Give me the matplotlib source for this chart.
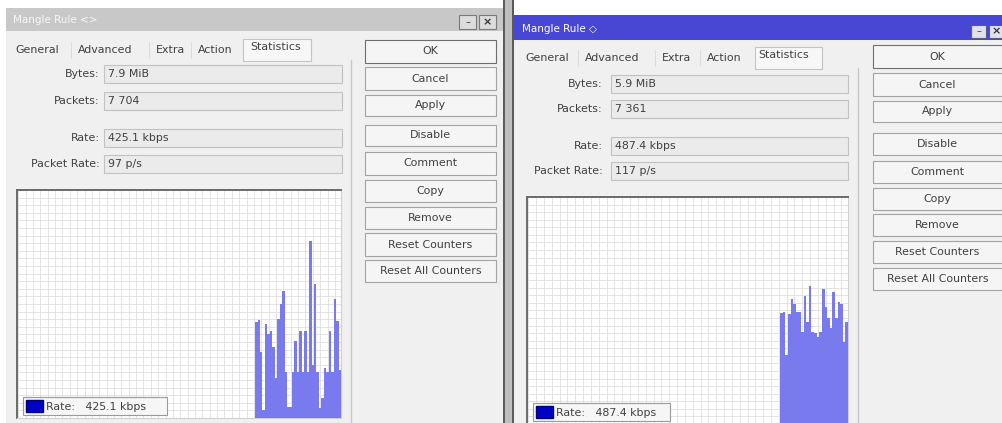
import matplotlib
matplotlib.use("Agg")
import matplotlib.pyplot as plt
from matplotlib.patches import Rectangle, Patch
from matplotlib.ticker import MultipleLocator
import numpy as np

# ---------------- data ----------------
tab_names = ["General", "Advanced", "Extra", "Action", "Statistics"]
field_labels = ["Bytes:", "Packets:", "Rate:", "Packet Rate:"]
left_values = ["7.9 MiB", "7 704", "425.1 kbps", "97 p/s"]
right_values = ["5.9 MiB", "7 361", "487.4 kbps", "117 p/s"]
button_labels = ["OK", "Cancel", "Apply", "Disable", "Comment", "Copy",
                 "Remove", "Reset Counters", "Reset All Counters"]
left_legend = "Rate:   425.1 kbps"
right_legend = "Rate:   487.4 kbps"

# rate history (kbps), most recent sample last
left_rate = [841, 858, 575, 71, 823, 735, 761, 619, 354, 867, 1000, 1115,
             407, 97, 97, 407, 673, 407, 761, 407, 761, 407, 1549, 469,
             1177, 407, 88, 177, 442, 407, 761, 407, 1044, 850, 425]
right_rate = [982, 991, 611, 965, 1097, 1053, 991, 991, 814, 1124, 903, 1212,
              814, 805, 770, 814, 1186, 1027, 938, 850, 1159, 938, 1071, 1053,
              726, 903]
left_slots = 132
right_slots = 123
y_max = 2000

# ---------------- figure ----------------
W, H = 1003, 423
fig = plt.figure(figsize=(W / 100, H / 100), dpi=100)
fig.patch.set_facecolor("white")
ax0 = fig.add_axes([0, 0, 1, 1])
ax0.set_xlim(0, W)
ax0.set_ylim(H, 0)
ax0.axis("off")

FONT = "DejaVu Sans"
TXT = "#404040"
FS = 7.9


def rect(x0, y0, x1, y1, fc, ec="none", lw=0.8, z=1):
    ax0.add_patch(Rectangle((x0, y0), x1 - x0, y1 - y0, facecolor=fc,
                            edgecolor=ec, lw=lw, zorder=z))


def txt(x, y, s, ha="left", color=TXT, size=FS, z=5, **kw):
    ax0.text(x, y, s, ha=ha, va="center", color=color, fontsize=size,
             family=FONT, zorder=z, **kw)


def fa(x0, y0, x1, y1):
    return [x0 / W, 1 - y1 / H, (x1 - x0) / W, (y1 - y0) / H]


# window bodies
rect(6, 8, 503, 423, "#f0f0f0")
rect(514, 15, 1003, 423, "#f0f0f0")
# divider between the two windows
rect(503, 0, 505, 423, "#5a5a5a", z=2)
rect(505, 0, 512, 423, "#bdbdbd", z=2)
rect(512, 0, 514, 423, "#5a5a5a", z=2)

# title bars
rect(6, 8, 503, 31, "#c8c8c8", z=2)
txt(13, 20, "Mangle Rule <>", color="white", size=7.5, alpha=0.85)
rect(514, 15, 1003, 40, "#4747d3", z=2)
txt(522, 29, "Mangle Rule \u25c7", color="white", size=7.5)
for bx in (459, 479):
    rect(bx, 15, bx + 17, 29, "#dcdcdc", ec="#7a7a7a", z=3)
txt(467.5, 22, "\u2013", ha="center", size=7, color="#444444")
txt(487.5, 22, "\u00d7", ha="center", size=8, color="#333333", weight="bold")
for bx in (971, 989):
    rect(bx, 25, bx + 15, 38, "#e0e0ee", ec="#5a5a8a", z=3)
txt(978.5, 31.5, "\u2013", ha="center", size=7, color="#444444")
txt(996.5, 31.5, "\u00d7", ha="center", size=8, color="#333333", weight="bold")


def window(ytab, tab_x, sel_box, label_right, box_x, rows, values,
           sep_x, sep_y0, btn_x, btn_rows):
    # tab strip
    for name, tx in zip(tab_names, tab_x):
        if name == "Statistics":
            rect(sel_box[0], ytab - 11, sel_box[1], ytab + 11, "#f7f7f7",
                 ec="#c4c4c4", z=3)
            txt(tx, ytab - 3, name)
        else:
            txt(tx, ytab, name)
    for sx in tab_x[1:-1]:
        ax0.plot([sx - 7, sx - 7], [ytab - 8, ytab + 8], color="#dcdcdc",
                 lw=0.7, zorder=3)
    # fields
    for lab, (y0, y1), val in zip(field_labels, rows, values):
        txt(label_right, (y0 + y1) / 2, lab, ha="right")
        rect(box_x[0], y0, box_x[1], y1, "#ebebeb", ec="#c2c2c2", z=3)
        txt(box_x[0] + 4, (y0 + y1) / 2, val)
    # separator
    ax0.plot([sep_x, sep_x], [sep_y0, 423], color="#c8c8c8", lw=1.0, zorder=3)
    # buttons
    for lab, (y0, y1) in zip(button_labels, btn_rows):
        ec = "#6f6f6f" if lab == "OK" else "#a3a3a3"
        rect(btn_x[0], y0, btn_x[1], y1, "#f5f5f5", ec=ec, z=3)
        txt((btn_x[0] + btn_x[1]) / 2, (y0 + y1) / 2, lab, ha="center")


window(50, [15, 78, 156, 198, 250], (243, 311), 100, (104, 342),
       [(65, 83), (92, 110), (129, 147), (155, 173)], left_values,
       351, 60, (365, 496),
       [(40, 63), (67, 90), (95, 116), (125, 146), (152, 175), (180, 202),
        (207, 229), (233, 256), (260, 282)])
window(58, [525, 585, 662, 707, 758], (755, 822), 603, (611, 848),
       [(75, 93), (100, 118), (137, 155), (162, 180)], right_values,
       858, 68, (873, 1002),
       [(45, 68), (73, 96), (101, 122), (133, 155), (161, 183), (188, 210),
        (214, 236), (241, 263), (268, 290)])


def rate_chart(box, rates, slots, legend_text, leg_w):
    ax = fig.add_axes(fa(*box))
    ax.set_facecolor("white")
    n = len(rates)
    xs = np.arange(slots - n, slots)
    ax.bar(xs, rates, width=1.0, color="#7a7aef", edgecolor="none",
           zorder=3)
    ax.set_xlim(-0.5, slots - 0.5)
    ax.set_ylim(0, y_max)
    ax.xaxis.set_major_locator(MultipleLocator(3))
    ax.yaxis.set_major_locator(MultipleLocator(y_max / 30))
    ax.grid(True, color="#dedede", lw=0.6, zorder=0)
    ax.tick_params(left=False, bottom=False, labelleft=False,
                   labelbottom=False)
    for s in ("top", "left"):
        ax.spines[s].set_color("#6a6a6a")
        ax.spines[s].set_linewidth(1.4)
    for s in ("right", "bottom"):
        ax.spines[s].set_color("#d0d0d0")
        ax.spines[s].set_linewidth(0.8)
    bw = box[2] - box[0]
    bh = box[3] - box[1]
    leg = ax.legend(handles=[Patch(facecolor="#0000c4", edgecolor="#00007a")],
                    labels=[legend_text], loc="lower left",
                    bbox_to_anchor=(6 / bw, 3 / bh, leg_w / bw, 22 / bh),
                    mode="expand", borderaxespad=0, frameon=True,
                    fancybox=False, framealpha=1, edgecolor="#9a9a9a",
                    facecolor="#f6f6f6", handlelength=1.5, handleheight=1.2,
                    handletextpad=0.3, borderpad=0.3,
                    prop={"family": FONT, "size": FS})
    leg.get_frame().set_linewidth(0.8)
    for t in leg.get_texts():
        t.set_color(TXT)
    return ax


rate_chart((17, 190, 341, 418), left_rate, left_slots, left_legend, 144)
rate_chart((527, 197, 848, 424), right_rate, right_slots, right_legend, 137)

fig.savefig("out.png", dpi=100, facecolor=fig.get_facecolor())
